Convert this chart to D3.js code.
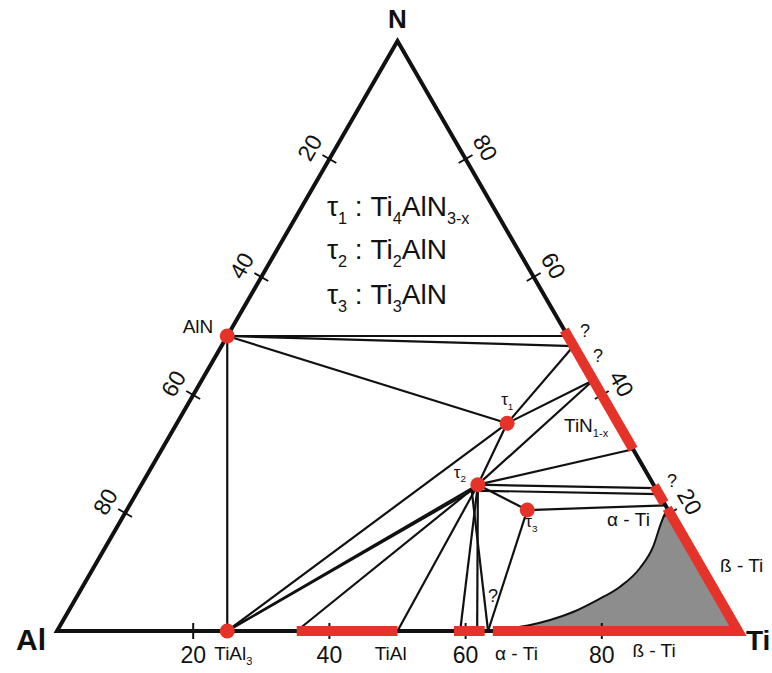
<!DOCTYPE html>
<html>
<head>
<meta charset="utf-8">
<script src="https://cdn.jsdelivr.net/npm/d3@7"></script>
<style>
  html, body { margin: 0; padding: 0; background: #fff; }
  svg { display: block; }
  text { font-family: "Liberation Sans", Arial, Helvetica, sans-serif; fill: #111; }
</style>
</head>
<body>
<svg id="chart" width="772" height="673"></svg>
<script>
// ---------------- data (at.% values) ----------------
const cornerNames = ["Al", "Ti", "N"];
const tickValues = [20, 40, 60, 80];

// phases / invariant points: Ti and N content in at.% (Al = 100 - Ti - N)
const phaseNodes = [
  { id: "AlN",   ti: 0,    n: 50 },
  { id: "TiAl3", ti: 25,   n: 0 },
  { id: "t1",    ti: 48.5, n: 35.2 },
  { id: "t2",    ti: 49.4, n: 24.8 },
  { id: "t2b",   ti: 49.0, n: 23.8 },
  { id: "t3",    ti: 58.8, n: 20.5 }
];
// points on the Ti–N edge
const edgeNodes = [
  { id: "r50", ti: 50.0, n: 50.0 },
  { id: "r48", ti: 51.7, n: 48.3 },
  { id: "r42", ti: 57.5, n: 42.5 },
  { id: "r31", ti: 69.2, n: 30.8 },
  { id: "r24", ti: 75.8, n: 24.2 },
  { id: "r23", ti: 76.8, n: 23.2 },
  { id: "r21", ti: 78.7, n: 21.3 }
];
// points on the Al–Ti edge
const baseNodes = [
  { id: "b35", ti: 35.2, n: 0 },
  { id: "b50", ti: 50.0, n: 0 },
  { id: "b59", ti: 59.2, n: 0 },
  { id: "b62", ti: 61.7, n: 0 },
  { id: "b63", ti: 63.3, n: 0 }
];
const dotPhases = ["AlN", "TiAl3", "t1", "t2", "t3"];

const tieLines = [
  ["AlN", "TiAl3"], ["AlN", "r50"], ["AlN", "r48"], ["AlN", "t1"],
  ["t1", "r48"], ["t1", "r42"], ["t1", "TiAl3"], ["t1", "t2"],
  ["t2", "r42"], ["t2", "r31"], ["t2", "r24"], ["t2b", "r23"], ["t2", "t3"],
  ["t3", "r21"], ["t3", "b63"],
  ["TiAl3", "t2"], ["TiAl3", "t2b"],
  ["t2", "b35"], ["t2", "b50"], ["t2", "b59"], ["t2", "b62"], ["t2b", "b63"]
];

// homogeneity ranges (red), as polylines of [Ti, N]
const redRanges = [
  [[49.0, 51.0], [69.2, 30.8]],               // TiN1-x
  [[75.4, 24.6], [78.3, 21.7]],               // "?"
  [[79.2, 20.8], [100, 0], [64.0, 0]],        // ß-Ti / α-Ti
  [[35.2, 0], [50.0, 0]],                     // TiAl
  [[58.3, 0], [62.8, 0]]                      // Ti3Al
];

// boundary of the grey field, [Ti, N]
const boundaryTi = [79.2, 79.55, 80.4, 80.27, 78.9, 76.7, 74.16, 71.47, 68.96, 66.7, 64.3];
const boundaryN  = [20.8, 18.3, 14.24, 10.68, 7.46, 5.25, 3.22, 1.86, 1.02, 0.51, 0];

const legendSymbols = ["τ", "τ", "τ"];
const legendIdx = ["1", "2", "3"];
const legendFormula = [["Ti", "4", "AlN", "3-x"], ["Ti", "2", "AlN", ""], ["Ti", "3", "AlN", ""]];

// ---------------- drawing ----------------
const svg = d3.select("#chart");
const RED = "#e5332a", INK = "#111";

// ternary projection through linear scales
const xS = d3.scaleLinear().domain([0, 100]).range([57, 738]);   // Ti + N/2
const yS = d3.scaleLinear().domain([0, 100]).range([631, 41]);   // N
const P = (ti, n) => [xS(ti + n / 2), yS(n)];

const nodeMap = {};
[...phaseNodes, ...edgeNodes, ...baseNodes].forEach(d => nodeMap[d.id] = P(d.ti, d.n));

const corners = { Al: P(0, 0), Ti: P(100, 0), N: P(0, 100) };

// grey field (boundary drawn with increasing x for a monotone curve)
const line = d3.line().curve(d3.curveMonotoneX);
const bPts = boundaryTi.map((t, i) => P(t, boundaryN[i])).reverse();
const tiV = corners.Ti;
svg.append("path")
  .attr("d", line(bPts) + "L" + tiV[0] + "," + tiV[1] + "Z")
  .attr("fill", "#8d8d8d");
svg.append("path")
  .attr("d", line(bPts))
  .attr("fill", "none").attr("stroke", INK).attr("stroke-width", 2);

// triangle
svg.append("path")
  .attr("d", d3.line()([corners.Al, corners.Ti, corners.N]) + "Z")
  .attr("fill", "none").attr("stroke", INK).attr("stroke-width", 4)
  .attr("stroke-linejoin", "miter");

// ticks and labels
const tickLen = 8;
const axes = [
  { pos: v => P(v, 0), normal: [0, 1], rot: 0, off: 24 },                                              // Ti
  { pos: v => P(100 - v, v), normal: [Math.cos(Math.PI / 6), -Math.sin(Math.PI / 6)], rot: 60, off: 23 }, // N
  { pos: v => P(0, 100 - v), normal: [-Math.cos(Math.PI / 6), -Math.sin(Math.PI / 6)], rot: -60, off: 23 } // Al
];
axes.forEach(ax => {
  tickValues.forEach(v => {
    const [x, y] = ax.pos(v);
    const [nx, ny] = ax.normal;
    svg.append("line")
      .attr("x1", x - nx * tickLen).attr("y1", y - ny * tickLen)
      .attr("x2", x + nx * tickLen).attr("y2", y + ny * tickLen)
      .attr("stroke", INK).attr("stroke-width", 2);
    const lx = x + nx * ax.off, ly = y + ny * ax.off;
    svg.append("text")
      .attr("x", 0).attr("y", 0)
      .attr("transform", `translate(${lx},${ly}) rotate(${ax.rot})`)
      .attr("text-anchor", "middle").attr("dy", "0.36em")
      .style("font-size", "23px")
      .text(v);
  });
});

// tie lines
svg.append("g").selectAll("line").data(tieLines).join("line")
  .attr("x1", d => nodeMap[d[0]][0]).attr("y1", d => nodeMap[d[0]][1])
  .attr("x2", d => nodeMap[d[1]][0]).attr("y2", d => nodeMap[d[1]][1])
  .attr("stroke", INK).attr("stroke-width", 2.2);

// homogeneity ranges
svg.append("g").selectAll("path").data(redRanges).join("path")
  .attr("d", d => d3.line()(d.map(p => P(p[0], p[1]))))
  .attr("fill", "none").attr("stroke", RED).attr("stroke-width", 10)
  .attr("stroke-linejoin", "miter").attr("stroke-linecap", "butt");

// phase dots
svg.append("g").selectAll("circle").data(dotPhases).join("circle")
  .attr("cx", d => nodeMap[d][0]).attr("cy", d => nodeMap[d][1])
  .attr("r", 7.5).attr("fill", RED);

// corner labels
const cornerLayout = { Al: [-11, 19, "end", 30], Ti: [8, 19, "start", 28], N: [0, -13, "middle", 26] };
cornerNames.forEach(c => {
  const [x, y] = corners[c];
  const [dx, dy, anc, fs] = cornerLayout[c];
  svg.append("text").attr("x", x + dx).attr("y", y + dy)
    .attr("text-anchor", anc)
    .style("font-size", fs + "px").style("font-weight", "bold")
    .text(c);
});

// helper for text with subscript
function subText(x, y, parts, size, anchor) {
  const t = svg.append("text").attr("x", x).attr("y", y)
    .attr("text-anchor", anchor || "start").style("font-size", size + "px");
  parts.forEach(p => {
    if (!p.t) return;
    const ts = t.append("tspan").text(p.t);
    if (p.sub) ts.style("font-size", (size * 0.58) + "px").attr("dy", size * 0.28);
    else if (p.after) ts.attr("dy", -size * 0.28);
  });
  return t;
}

// legend
const legendY = [216, 259, 304];
legendSymbols.forEach((s, i) => {
  const f = legendFormula[i];
  subText(327, legendY[i], [
    { t: s }, { t: legendIdx[i], sub: true }, { t: " : ", after: true },
    { t: f[0] }, { t: f[1], sub: true }, { t: f[2], after: true }, { t: f[3], sub: true }
  ], 28);
});

// phase labels
const AlNp = nodeMap.AlN, TiAl3p = nodeMap.TiAl3;
svg.append("text").attr("x", AlNp[0] - 14).attr("y", AlNp[1] - 3)
  .attr("text-anchor", "end").style("font-size", "19px").text("AlN");
subText(TiAl3p[0] - 13, 660, [{ t: "TiAl" }, { t: "3", sub: true }], 19);
const tiAlMid = P(49, 0);
svg.append("text").attr("x", tiAlMid[0]).attr("y", 660).attr("text-anchor", "middle")
  .style("font-size", "19px").text("TiAl");
svg.append("text").attr("x", P(64.3, 0)[0]).attr("y", 660).style("font-size", "19px").text("α - Ti");
svg.append("text").attr("x", P(84.5, 0)[0]).attr("y", 657).style("font-size", "19px").text("ß - Ti");
svg.append("text").attr("x", 720).attr("y", 572).style("font-size", "19px").text("ß - Ti");
svg.append("text").attr("x", 607).attr("y", 526).style("font-size", "19px").text("α - Ti");
subText(564, 432, [{ t: "TiN" }, { t: "1-x", sub: true }], 19);

// tau labels
const tauLay = { t1: [-6, -18], t2: [-24, -7], t3: [-2, 17] };
Object.keys(tauLay).forEach((k, i) => {
  const p = nodeMap[k];
  subText(p[0] + tauLay[k][0], p[1] + tauLay[k][1], [{ t: "τ" }, { t: legendIdx[i], sub: true }], 17);
});

// question marks
const qPos = [[580, 337], [593, 362], [667, 487], [488, 602]];
qPos.forEach(p => svg.append("text").attr("x", p[0]).attr("y", p[1])
  .style("font-size", "18px").text("?"));
</script>
</body>
</html>
